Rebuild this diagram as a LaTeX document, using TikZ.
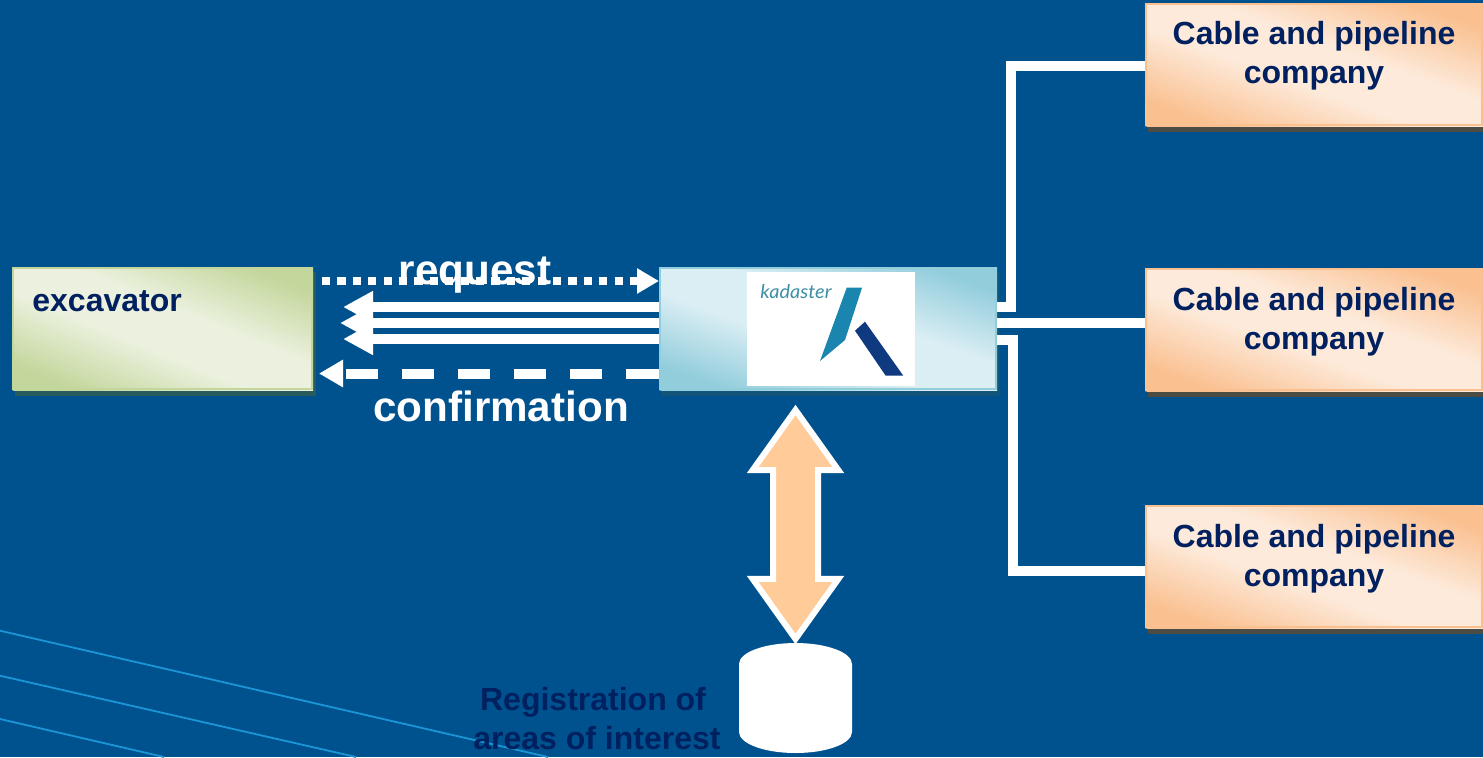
\documentclass[tikz,border=0pt]{standalone}
\usepackage{fontspec}
\setmainfont{Liberation Sans}
\newfontfamily\logofont{Lato}
\usetikzlibrary{arrows.meta,calc,shapes.arrows}
\definecolor{bgblue}{HTML}{00528F}
\definecolor{navytext}{HTML}{00205F}
\definecolor{streak}{HTML}{1A95D5}
\definecolor{orL}{HTML}{FDEADA}\definecolor{orD}{HTML}{FAC090}\definecolor{orS}{HTML}{4C4C44}
\definecolor{grL}{HTML}{EBF1DE}\definecolor{grD}{HTML}{C3D69B}\definecolor{grS}{HTML}{2A5B5C}
\definecolor{blL}{HTML}{DBEEF4}\definecolor{blD}{HTML}{92CDDC}\definecolor{blS}{HTML}{13557A}
\definecolor{peach}{HTML}{FFCC99}
\definecolor{logoteal}{HTML}{1A86B0}
\definecolor{logonavy}{HTML}{0F3A80}
\definecolor{logotext}{HTML}{3C8FA6}
\pgfdeclareverticalshading{orband}{100bp}{color(0bp)=(orD); color(30bp)=(orD); color(45bp)=(orL); color(55bp)=(orL); color(70bp)=(orD); color(100bp)=(orD)}
\pgfdeclareverticalshading{grband}{100bp}{color(0bp)=(grD); color(30bp)=(grD); color(45bp)=(grL); color(55bp)=(grL); color(70bp)=(grD); color(100bp)=(grD)}
\pgfdeclareverticalshading{blband}{100bp}{color(0bp)=(blD); color(30bp)=(blD); color(45bp)=(blL); color(55bp)=(blL); color(70bp)=(blD); color(100bp)=(blD)}
\tikzset{
  flowbox/.style={rectangle,inner sep=0pt,outer sep=0pt},
  boxlabel/.style={font=\fontsize{16}{19.5}\selectfont\bfseries,text=navytext,align=center,inner sep=0pt},
  bigword/.style={font=\fontsize{21.1}{25}\selectfont\bfseries,text=white,inner sep=0pt,anchor=base},
  wire/.style={draw=white,line width=5pt,line join=miter},
  solidarrow/.style={draw=white,line width=5pt,-{Triangle[length=15pt,width=15pt]}},
  streakline/.style={draw=streak,line width=0.9pt},
}
% name, x0,y0,x1,y1, shading, dark, shadow
\newcommand{\gradbox}[8]{%
  \fill[#8] (#2+3,#3+5) rectangle (#4+3,#5+6);
  \node[flowbox,minimum width={(#4-#2)*0.5pt},minimum height={(#5-#3)*0.5pt}] (#1) at ({(#2+#4)/2},{(#3+#5)/2}) {};
  \begin{scope}
    \clip (#2,#3) rectangle (#4,#5);
    \pgfmathsetmacro{\ang}{atan((#5-#3)/(#4-#2))}
    \pgfmathsetmacro{\hb}{(#4-#2)/2*sin(\ang)+(#5-#3)/2*cos(\ang)}
    \shade[shading=#6,transform canvas={rotate around={-\ang:(#1.center)}}]
      ({(#2+#4)/2-500},{(#3+#5)/2-\hb}) rectangle ({(#2+#4)/2+500},{(#3+#5)/2+\hb});
  \end{scope}
  \draw[#7,line width=1pt] (#2+1,#3+1) rectangle (#4-1,#5-1);
}
\begin{document}
\begin{tikzpicture}[x=0.5pt,y=-0.5pt]
\useasboundingbox (0,0) rectangle (1483,757);
\fill[bgblue] (0,0) rectangle (1483,757);
\coordinate (s1a) at (0,630.7);\coordinate (s1b) at (548,757);
\coordinate (s2a) at (0,675.7);\coordinate (s2b) at (356,757);
\coordinate (s3a) at (0,719);\coordinate (s3b) at (164,757);
\draw[streakline] (s1a) -- (s1b);
\draw[streakline] (s2a) -- (s2b);
\draw[streakline] (s3a) -- (s3b);

\gradbox{exc}{12}{267}{313}{390}{grband}{grD}{grS}
\gradbox{kad}{659}{267}{997}{390}{blband}{blD}{blS}
\gradbox{cA}{1145}{3}{1483}{126}{orband}{orD}{orS}
\gradbox{cB}{1145}{268}{1483}{391}{orband}{orD}{orS}
\gradbox{cC}{1145}{505}{1483}{628}{orband}{orD}{orS}

% logo
\node[rectangle,fill=white,inner sep=0pt,outer sep=0pt,minimum width=84pt,minimum height=57pt] (logo) at (831,329) {};
\node[anchor=base west,inner sep=0pt,text=logotext,font=\logofont\itshape\fontsize{9.5}{11}\selectfont,xscale=1.05] (kadword) at (760,298) {kadaster};
\fill[logoteal] (846.7,287.7) -- (862,287.7) -- (845,340) -- (820,361) -- cycle;
\fill[logonavy] (865,321.7) -- (855,330.7) -- (885.7,375.7) -- (903.3,375.7) -- cycle;

% labels in boxes
\node[boxlabel,anchor=base west] (excl) at (32,311) {excavator};
\node[boxlabel] (cAl) at ([yshift=4.5pt]cA.center) {Cable and pipeline\\company};
\node[boxlabel] (cBl) at ([yshift=4pt]cB.center) {Cable and pipeline\\company};
\node[boxlabel] (cCl) at ([yshift=4pt]cC.center) {Cable and pipeline\\company};

% wires kadaster -> companies
\coordinate (bendA) at (1011,306.5);
\coordinate (bendC) at (1013,339.5);
\draw[wire] ([yshift=11pt]kad.east) -- (bendA) |- ([yshift=-0.75pt]cA.west);
\draw[wire] ([yshift=2.75pt]kad.east) -- ([yshift=3.25pt]cB.west);
\draw[wire] ([yshift=-5.5pt]kad.east) -- (bendC) |- ([yshift=-2.25pt]cC.west);

% request / arrows
\coordinate (reqL) at (322,281);
\coordinate (confL) at (319,373.5);
\coordinate (rA) at (343,307);
\coordinate (rB) at (340,323);
\coordinate (rC) at (343,339);
\draw[draw=white,line width=4.3pt,dash pattern=on 4.1pt off 3.6pt,-{Triangle[length=11pt,width=12pt]}] (reqL) -- ([yshift=23.75pt]kad.west);
\draw[solidarrow] ([yshift=10.75pt]kad.west) -- (rA);
\draw[solidarrow] ([yshift=2.75pt]kad.west) -- (rB);
\draw[solidarrow] ([yshift=-5.25pt]kad.west) -- (rC);
\draw[draw=white,line width=5pt,dash pattern=on 16.5pt off 12pt on 16pt off 12pt on 16pt off 12pt on 16pt off 12pt on 16pt off 12pt on 16pt off 12pt,-{Triangle[length=12pt,width=13pt]}] ([yshift=-22.5pt]kad.west) -- (confL);
\node[bigword] (req) at (475,284) {request};
\node[bigword] (conf) at (501,421) {confirmation};

% double arrow + store
\node[shape=double arrow,rotate=90,draw=white,line width=3pt,fill=peach,inner xsep=0pt,inner ysep=9.75pt,outer sep=0pt,
  minimum height=114.5pt,minimum width=40pt,double arrow head extend=10.2pt,double arrow tip angle=71] (link) at (795.5,524.5) {};
\coordinate (storeTL) at (739,664);
\coordinate (storeBR) at (852,732);
\fill[white] (storeTL) arc[start angle=180,end angle=360,x radius=56.5,y radius=21] -- (storeBR)
  arc[start angle=0,end angle=180,x radius=56.5,y radius=21] -- cycle;
\node[boxlabel] (storel) at (597,719) {Registration of\hspace*{4pt}\\areas of interest};
\end{tikzpicture}
\end{document}
